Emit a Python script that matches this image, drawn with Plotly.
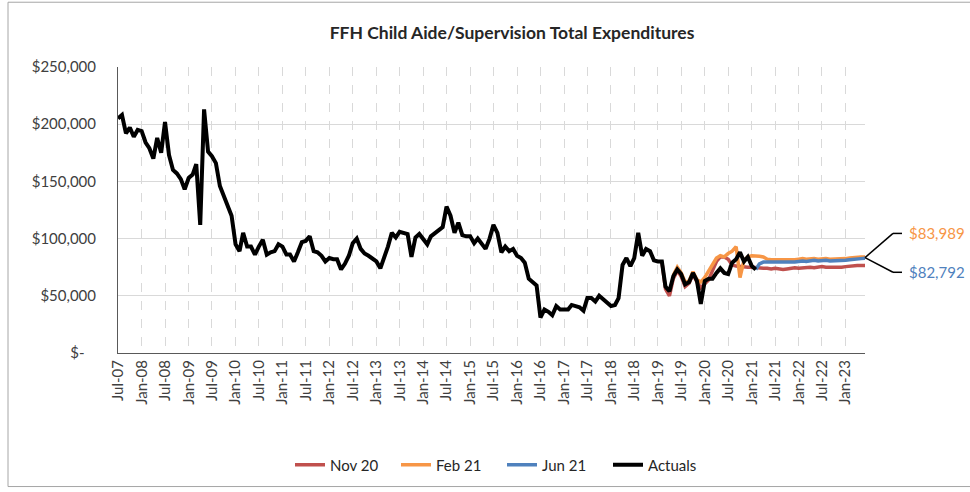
import pandas as pd
import plotly.graph_objects as go

# ---------------- data ----------------
months = pd.date_range("2007-07-01", "2023-06-01", freq="MS")

actuals = [
    205000, 208000, 192000, 197000, 189000, 195000, 194000, 184000, 179000, 170000,
    188000, 175000, 202000, 173000, 160000, 157000, 152000, 143000, 153000, 156000,
    165000, 112000, 213000, 176000, 172000, 166000, 146000, 137000, 130000, 120000,
    95000, 89000, 105000, 93000, 93000, 86000, 93000, 99000, 86000, 88000,
    89000, 95000, 93000, 86000, 86000, 80000, 88000, 97000, 98000, 102000,
    89000, 88000, 85000, 80000, 83000, 82000, 82000, 73000, 78000, 85000,
    96000, 100000, 91000, 87000, 85000, 83000, 80000, 74000, 82000, 93000,
    105000, 101000, 106000, 105000, 104000, 84000, 101000, 104000, 100000, 95000,
    102000, 105000, 107000, 110000, 128000, 120000, 105000, 114000, 103000, 102000,
    102000, 96000, 100000, 96000, 91000, 100000, 112000, 105000, 88000, 93000,
    89000, 91000, 85000, 83000, 79000, 65000, 62000, 59000, 31000, 38000,
    36000, 33000, 41000, 38000, 38000, 38000, 42000, 41000, 40000, 37000,
    48000, 48000, 45000, 50000, 47000, 43000, 41000, 42000, 48000, 77000,
    83000, 76000, 83000, 105000, 85000, 91000, 89000, 81000, 80000, 80000,
    58000, 54000, 67000, 73000, 69000, 60000, 62000, 70000, 63000, 43000,
    63000, 65000, 65000, 70000, 74000, 70000, 69000, 79000, 82000, 88000,
    80000, 84000, 76000, 73000,
]

nov20_start = 139
nov20 = [
    80000, 56000, 50000, 65000, 72000, 67000, 58000, 61000, 69000, 62000,
    57000, 60000, 64000, 72000, 80000, 84000, 84000, 82000, 77000, 76000,
    75500, 75500, 75000, 75000, 74500, 74500, 74000, 74000, 73500, 74000,
    73500, 73000, 73500, 74000, 74500, 74000, 74500, 75000, 75000, 74500,
    75000, 75500, 75000, 75000, 74500, 75000, 75000, 75500, 76000, 76000,
    76500, 76500, 76500,
]

feb21_start = 142
feb21 = [
    68000, 75000, 70000, 62000, 63000, 71000, 64000, 62000, 66000, 72000,
    78000, 83000, 85000, 84000, 87000, 89000, 93000, 66000, 81000, 84000,
    85000, 85000, 84500, 84000, 82000, 81500, 81500, 81500, 81500, 81500,
    81000, 81500, 82000, 82500, 82000, 82500, 82500, 82000, 82500, 82500,
    82000, 82000, 82500, 82000, 82500, 83000, 83500, 83500, 84000, 83989,
]

jun21_start = 163
jun21 = [
    73000, 78000, 79500, 79500, 79500, 79500, 79500, 79500, 79500, 79000,
    79500, 80000, 80500, 80000, 80500, 81000, 80500, 81000, 81000, 80500,
    80500, 81000, 80500, 81000, 81500, 82000, 82000, 82500, 82792,
]

series_names = ["Nov 20", "Feb 21", "Jun 21", "Actuals"]
series_colors = ["#C0504D", "#F79646", "#4F81BD", "#000000"]

y_tick_vals = [0, 50000, 100000, 150000, 200000, 250000]
y_tick_text = ["$-\u00a0\u00a0\u00a0", "$50,000", "$100,000", "$150,000", "$200,000", "$250,000"]

title_text = "FFH Child Aide/Supervision Total Expenditures"

# ---------------- figure ----------------
FONT = "Lato, 'Open Sans', sans-serif"
W, H = 970, 492
L, R, T, B = 118, 105, 67, 138
pw, ph = W - L - R, H - T - B

def px_x(X):
    return (X - L) / pw

def px_y(Y):
    return (H - B - Y) / ph

fig = go.Figure()
series = [
    (nov20, nov20_start),
    (feb21, feb21_start),
    (jun21, jun21_start),
    (actuals, 0),
]
widths = [3.5, 3.5, 3.5, 4]
for (vals, start), name, color, wd in zip(series, series_names, series_colors, widths):
    fig.add_trace(go.Scatter(
        x=months[start:start + len(vals)],
        y=vals,
        mode="lines",
        name=name,
        line=dict(color=color, width=wd),
    ))

y_max = y_tick_vals[-1]
end_val = (feb21[-1] + jun21[-1]) / 2
start_y = end_val / y_max

shapes = []
# callout lines
for elbow_y in (px_y(234), px_y(273)):
    shapes.append(dict(type="line", xref="paper", yref="paper",
                       x0=1.0, y0=start_y, x1=px_x(893), y1=elbow_y,
                       line=dict(color="black", width=1.5)))
    shapes.append(dict(type="line", xref="paper", yref="paper",
                       x0=px_x(893), y0=elbow_y, x1=px_x(902), y1=elbow_y,
                       line=dict(color="black", width=1.5)))
# outer chart border
shapes.append(dict(type="rect", xref="paper", yref="paper",
                   x0=px_x(8), y0=px_y(488), x1=px_x(1010), y1=px_y(2),
                   line=dict(color="#a6a6a6", width=1), fillcolor="rgba(0,0,0,0)",
                   layer="below"))

annotations = [
    dict(xref="paper", yref="paper", x=px_x(907), y=px_y(234), xanchor="left",
         yanchor="middle", showarrow=False, text=f"${feb21[-1]:,.0f}",
         font=dict(family=FONT, size=15, color=series_colors[1])),
    dict(xref="paper", yref="paper", x=px_x(907), y=px_y(273), xanchor="left",
         yanchor="middle", showarrow=False, text=f"${jun21[-1]:,.0f}",
         font=dict(family=FONT, size=15, color=series_colors[2])),
]

fig.update_layout(
    width=W, height=H,
    margin=dict(l=L, r=R, t=T, b=B, pad=0),
    paper_bgcolor="white", plot_bgcolor="white",
    font=dict(family=FONT, size=15, color="#404040"),
    title=dict(text=f"<b>{title_text}</b>", xref="container", yref="container",
               x=512 / W, y=1 - 33 / H, xanchor="center", yanchor="middle",
               font=dict(family=FONT, size=17.5, color="#262626")),
    showlegend=True,
    legend=dict(orientation="h", x=px_x(290), xanchor="left",
                y=px_y(465), yanchor="middle",
                font=dict(family=FONT, size=15, color="#262626"),
                bgcolor="rgba(0,0,0,0)", itemwidth=30,
                entrywidth=61, entrywidthmode="pixels"),
    shapes=shapes,
    annotations=annotations,
    hovermode=False,
)

fig.update_xaxes(
    type="date",
    range=[months[0], months[-1]],
    tick0=months[0], dtick="M6", tickformat="%b-%y", tickangle=-90,
    showgrid=True, gridcolor="#d9d9d9", griddash="dash", gridwidth=1,
    showline=True, linecolor="#595959", linewidth=1,
    ticks="", zeroline=False,
    tickfont=dict(family=FONT, size=15, color="#404040"),
)
fig.update_yaxes(
    range=[0, y_max],
    tickvals=y_tick_vals, ticktext=y_tick_text,
    showgrid=True, gridcolor="#d9d9d9", gridwidth=1,
    showline=True, linecolor="#595959", linewidth=1,
    ticks="", zeroline=False, ticklabelstandoff=18,
    tickfont=dict(family=FONT, size=15, color="#404040"),
)

fig.write_html(
    "out.html",
    config={"displayModeBar": False},
    post_script="document.body.style.margin='0px';document.body.style.overflow='hidden';",
)
